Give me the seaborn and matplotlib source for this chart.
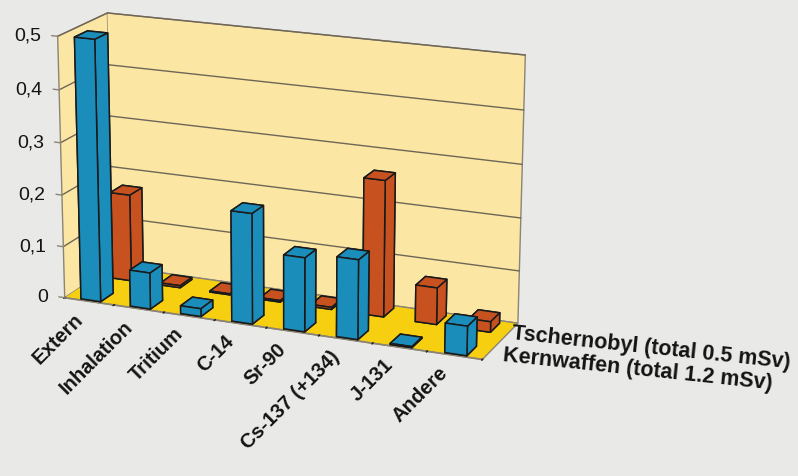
import numpy as np
import matplotlib
matplotlib.use("Agg")
import matplotlib.pyplot as plt
import seaborn as sns
from mpl_toolkits.mplot3d import proj3d

# Dosisbeiträge in mSv je Quelle
categories = ["Extern", "Inhalation", "Tritium", "C-14", "Sr-90",
              "Cs-137 (+134)", "J-131", "Andere"]
series_labels = ["Kernwaffen (total 1.2 mSv)", "Tschernobyl (total 0.5 mSv)"]
kernwaffen = [0.50, 0.07, 0.015, 0.21, 0.14, 0.15, 0.002, 0.055]
tschernobyl = [0.17, 0.004, 0.002, 0.003, 0.004, 0.26, 0.07, 0.02]
z_ticks = [0.0, 0.1, 0.2, 0.3, 0.4, 0.5]

sns.set_theme(style="white")
plt.rcParams["font.family"] = ["Liberation Sans", "DejaVu Sans"]

bg = "#E9E9E7"
wall = "#FBE6A4"
floor = "#F6D010"
edge = "#8C8474"
ink = "#141414"

blue_faces = ["#1B8DBB", "#3AB2E0", "#1CA2D6", "#1CA2D6", "#1CA2D6", "#16789F"]
orange_faces = ["#C8521F", "#F27E45", "#EE6A2C", "#EE6A2C", "#EE6A2C", "#B54A1C"]

fig = plt.figure(figsize=(7.98, 4.76), dpi=100)
fig.patch.set_facecolor(bg)
ax = fig.add_axes([-0.174, -0.02, 1.05, 1.25], projection="3d",
                  computed_zorder=False, proj_type="persp", focal_length=0.8)
ax.patch.set_alpha(0)

xmin, xmax = -0.5, len(categories) - 0.5
ymin, ymax = -0.25, 1.3
ax.set_xlim(xmin, xmax)
ax.set_ylim(ymin, ymax)
ax.set_zlim(0, 0.5)
ax.set_box_aspect((4.75, 1.15, 2.9), zoom=0.885)
ax.view_init(elev=17, azim=-67)

# Wände und Boden
ax.xaxis.set_pane_color(wall)
ax.yaxis.set_pane_color(wall)
ax.zaxis.set_pane_color(floor)
for a in (ax.xaxis, ax.yaxis, ax.zaxis):
    a.pane.set_edgecolor(edge)
    a.pane.set_linewidth(1.0)
    a.line.set_color(edge)
ax.zaxis.line.set_alpha(0)
ax.yaxis.line.set_alpha(0)
ax.grid(False)

# Hilfslinien auf Rück- und Seitenwand, Teilstriche an der Vorderkante
for v in z_ticks:
    if v > 0:
        ax.plot([xmin, xmax], [ymax, ymax], [v, v], color="#6E6656", lw=1.0, zorder=1)
        ax.plot([xmin, xmin], [ymin, ymax], [v, v], color="#6E6656", lw=1.0, zorder=1)
    ax.plot([xmin - 0.12, xmin], [ymin, ymin], [v, v], color=edge, lw=1.0, zorder=1)
ax.plot([xmin, xmin], [ymin, ymin], [0, 0.5], color=edge, lw=1.0, zorder=1)

x = np.arange(len(categories), dtype=float)
dx, dy = 0.4, 0.4
ax.bar3d(x - dx / 2, np.full_like(x, 1.0) - dy / 2, np.zeros_like(x), dx, dy,
         tschernobyl, color=orange_faces, shade=False, edgecolor="#1A1A1A",
         linewidth=1.1, zorder=2)
ax.bar3d(x - dx / 2, np.full_like(x, 0.0) - dy / 2, np.zeros_like(x), dx, dy,
         kernwaffen, color=blue_faces, shade=False, edgecolor="#1A1A1A",
         linewidth=1.1, zorder=3)

ax.set_xticks(np.arange(len(categories) + 1) - 0.5)
ax.set_xticklabels([])
ax.set_yticks([])
ax.set_zticks([])

fig.canvas.draw()
M = ax.get_proj()


def screen(px, py, pz):
    sx, sy, _ = proj3d.proj_transform(px, py, pz, M)
    return sx, sy


for i, name in enumerate(categories):
    ax.annotate(name, xy=screen(i, ymin, 0), xycoords="data",
                xytext=(-2, -6), textcoords="offset points",
                fontsize=14.5, fontweight="bold", rotation=45,
                ha="right", va="top", color=ink, zorder=5)
for v in z_ticks:
    ax.annotate(f"{v:g}".replace(".", ","), xy=screen(xmin, ymin, v),
                xycoords="data", xytext=(-12, 0), textcoords="offset points",
                fontsize=14, ha="right", va="center", color=ink, zorder=5)
for offs, lab in zip([(2, -10), (9, 6)], series_labels):
    ax.annotate(lab, xy=screen(xmax, 0.5, 0), xycoords="data",
                xytext=offs, textcoords="offset points",
                fontsize=15.5, fontweight="bold", rotation=-6,
                rotation_mode="anchor", ha="left", va="center", color=ink,
                zorder=5)

fig.savefig("out.png", dpi=100, facecolor=bg)
